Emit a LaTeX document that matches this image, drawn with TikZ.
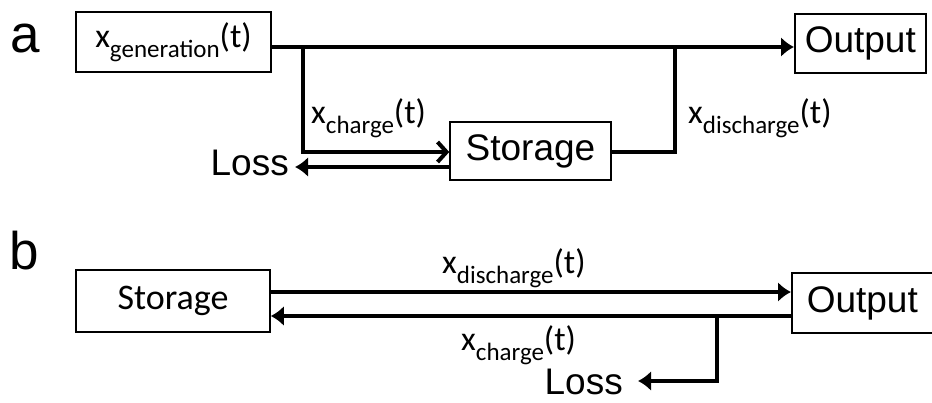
\documentclass[tikz,border=0pt]{standalone}
\usepackage{fontspec}
\setmainfont{Liberation Sans}
\newfontfamily\calfont{Carlito}
\usetikzlibrary{arrows.meta}
\newcommand\flowlbl[1]{{\calfont\fontsize{34}{34}\selectfont x\raisebox{-10pt}{\fontsize{25}{25}\selectfont #1}(t)}}
\begin{document}
\begin{tikzpicture}[x=1pt,y=-1pt,
  box/.style={draw, line width=1.5pt, inner sep=0pt},
  conn/.style={line width=4pt},
  arial/.style={font=\fontsize{37}{37}\selectfont},
  big/.style={font=\fontsize{53}{53}\selectfont, inner sep=0pt, anchor=base west},
  lbl/.style={inner sep=0pt, anchor=base west},
  tri/.style={-{Latex[length=13pt,width=20pt]}},
  barb/.style={-{Straight Barb[length=9pt,width=20pt]}}]
\clip (0,0) rectangle (932,402);
\fill[white] (0,0) rectangle (932,402);
% panel a
\node[big] (la) at (10,52) {a};
\node[box, minimum width=195pt, minimum height=60pt] (gen) at (173.5,42) {\flowlbl{generation}};
\node[box, arial, anchor=west, minimum height=59pt, inner xsep=10pt] (out1) at (794,43.5) {Output\hspace{40pt}};
\node[box, arial, minimum width=161pt, minimum height=58pt] (sto1) at (530.5,151) {Storage};
\node[arial, inner sep=0pt, anchor=base east] (loss1) at (289,175) {Loss};
\coordinate (j1) at (303,47);
\coordinate (j2) at (675,47);
\coordinate (c1) at (303,152);
\coordinate (d1) at (675,152);
\coordinate (l1) at (295,167);
\draw[conn, tri] (gen.east |- j1) -- (out1.west |- j1);
\draw[conn, barb] (j1) -- (c1) -- (sto1.west |- c1);
\draw[conn, tri] (sto1.west |- l1) -- (l1);
\draw[conn] (sto1.east |- d1) -- (d1) -- (j2);
\node[lbl] (xc1) at (311,123) {\flowlbl{charge}};
\node[lbl] (xd1) at (688,123) {\flowlbl{discharge}};
% panel b
\node[big] (lb) at (9,269) {b};
\node[box, font=\calfont\fontsize{36}{36}\selectfont, minimum width=194pt, minimum height=62pt] (sto2) at (173,301) {Storage};
\node[box, arial, anchor=west, minimum height=60pt, inner xsep=15pt] (out2) at (791,303) {Output\hspace{40pt}};
\coordinate (t2) at (500,292);
\coordinate (b2) at (500,316);
\coordinate (k1) at (717,316);
\coordinate (k2) at (717,381);
\coordinate (l2) at (638,381);
\draw[conn, tri] (sto2.east |- t2) -- (out2.west |- t2);
\draw[conn, tri] (out2.west |- b2) -- (sto2.east |- b2);
\draw[conn, tri] (k1) -- (k2) -- (l2);
\node[arial, inner sep=0pt, anchor=base east] (loss2) at (623,394) {Loss};
\node[lbl] (xd2) at (442,273) {\flowlbl{discharge}};
\node[lbl] (xc2) at (461,350) {\flowlbl{charge}};
\end{tikzpicture}
\end{document}
